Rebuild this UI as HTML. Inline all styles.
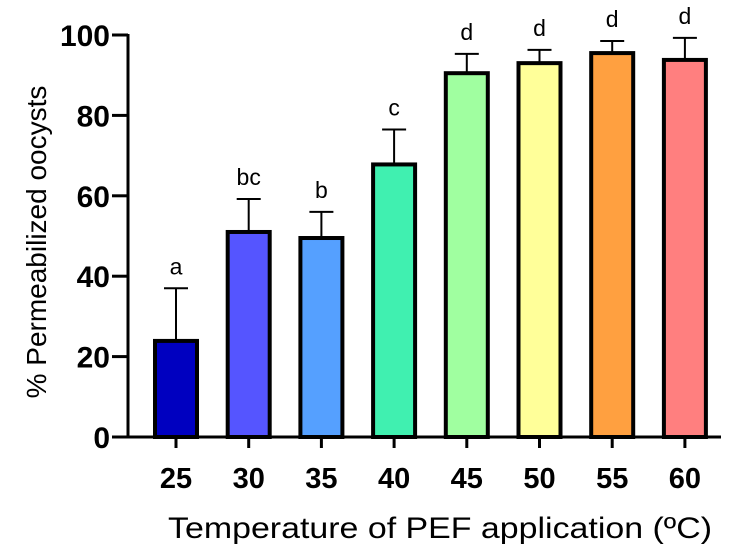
<!DOCTYPE html>
<html><head><meta charset="utf-8"><style>
html,body{margin:0;padding:0;background:#fff;}
svg text{font-family:"Liberation Sans",Arial,sans-serif;}
</style></head><body>
<svg id="chart" width="742" height="552" viewBox="0 0 742 552" xmlns="http://www.w3.org/2000/svg"></svg>
<script>
const categories=["25","30","35","40","45","50","55","60"];
const means=[23.9,51,49.5,67.8,90.5,93,95.5,93.8];
const errTops=[37,59.2,56,76.5,95.3,96.3,98.5,99.3];
const letters=["a","bc","b","c","d","d","d","d"];
const colors=["#0000c0","#5555ff","#55a0ff","#40f0b0","#a0ffa0","#ffff99","#ffa040","#ff7f7f"];
const yTicks=[0,20,40,60,80,100];

const NS="http://www.w3.org/2000/svg";
const svg=document.getElementById('chart');
const y0=437,y100=35;
function y(v){return y0-(y0-y100)*v/100;}
function x(i){return 176+i*72.7;}
function mk(tag,attrs,parent){const e=document.createElementNS(NS,tag);for(const k in attrs)e.setAttribute(k,attrs[k]);(parent||svg).appendChild(e);return e;}

categories.forEach((c,i)=>{
  const g=mk('g',{});
  
  
  const eb=mk('line',{x1:x(i),x2:x(i),y1:y(errTops[i]),y2:y(means[i]),stroke:'#000','stroke-width':2},g);
  
  
  const cap=mk('line',{x1:x(i)-12,x2:x(i)+12,y1:y(errTops[i]),y2:y(errTops[i]),stroke:'#000','stroke-width':2},g);
  
  
  const r=mk('rect',{x:x(i)-21,y:y(means[i]),width:42,height:y0-y(means[i]),fill:colors[i],stroke:'#000','stroke-width':4},g);
  
  
  const t=mk('text',{x:x(i),y:y(errTops[i])-14,'text-anchor':'middle','font-size':23,fill:'#000'},g);
  t.textContent=letters[i];
  
  
  const tk=mk('line',{x1:x(i),x2:x(i),y1:y0,y2:y0+11,stroke:'#000','stroke-width':3});
  
  
  const tl=mk('text',{x:x(i),y:488,'text-anchor':'middle','font-size':29,'font-weight':'bold',fill:'#000'});
  tl.textContent=c;
  
  
});
const ya=mk('line',{x1:128,x2:128,y1:y100-1,y2:y0+1.5,stroke:'#000','stroke-width':3});


yTicks.forEach(v=>{
  const tk=mk('line',{x1:112,x2:128,y1:y(v),y2:y(v),stroke:'#000','stroke-width':3});
  
  
  const tl=mk('text',{x:110,y:y(v)+11,'text-anchor':'end','font-size':30,'font-weight':'bold',fill:'#000'});
  tl.textContent=v;
  
  
});
const xa=mk('line',{x1:112,x2:721,y1:y0,y2:y0,stroke:'#000','stroke-width':3});


const xt=mk('text',{x:168,y:538,'font-size':30,fill:'#000',textLength:544,lengthAdjust:'spacingAndGlyphs'});
xt.textContent='Temperature of PEF application (ºC)';


const yt=mk('text',{x:0,y:0,'text-anchor':'middle','font-size':28,fill:'#000',transform:'translate(46,242) rotate(-90)'});
yt.textContent='% Permeabilized oocysts';


</script>
</body></html>
